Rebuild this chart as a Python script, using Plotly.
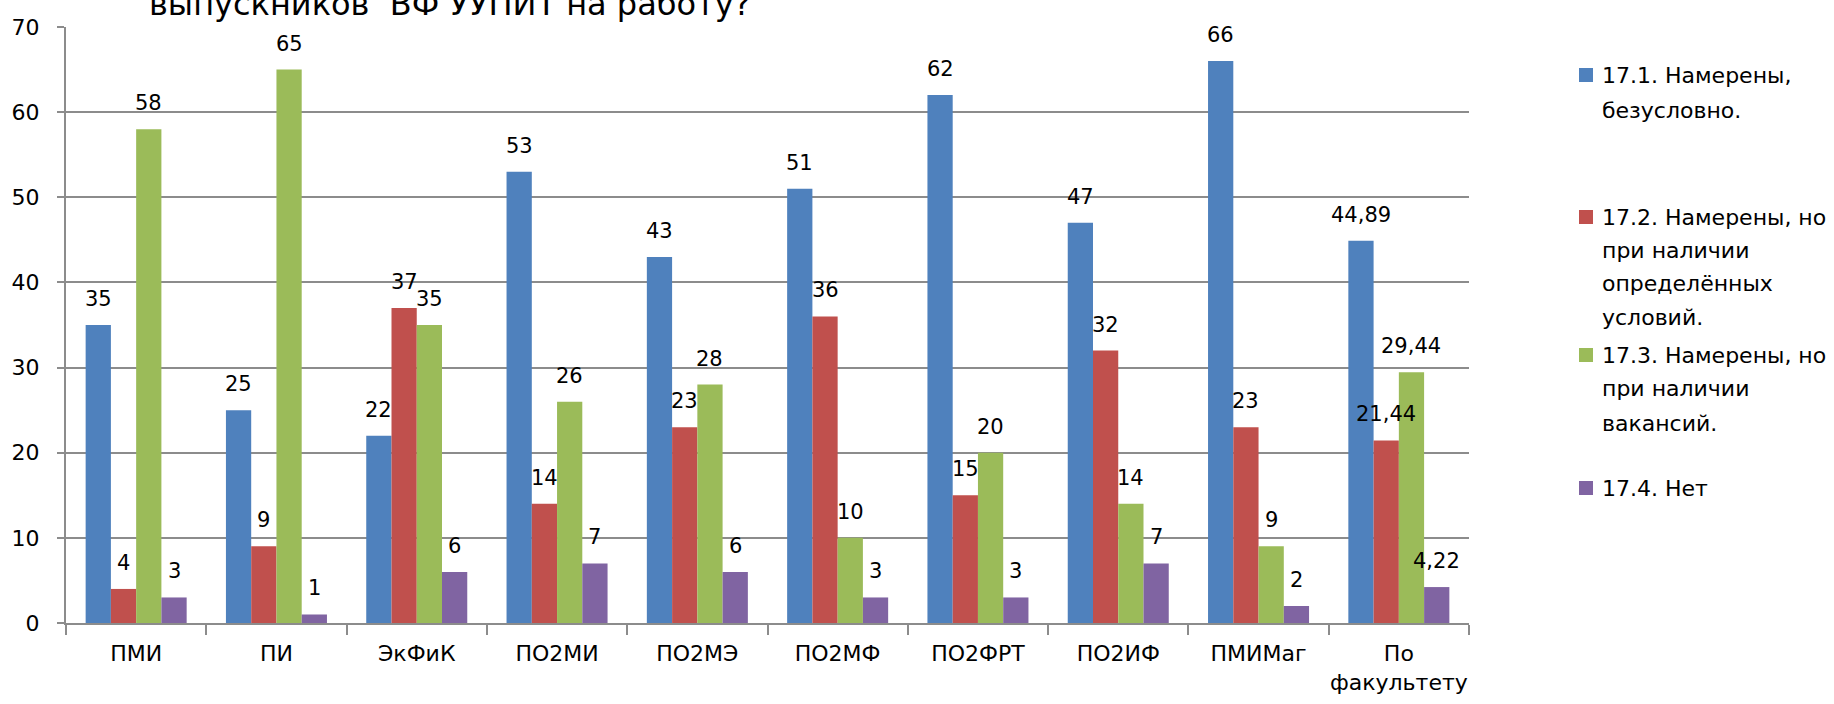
import plotly.graph_objects as go

# ---------------- data ----------------
categories = ["ПМИ", "ПИ", "ЭкФиК", "ПО2МИ", "ПО2МЭ", "ПО2МФ", "ПО2ФРТ", "ПО2ИФ", "ПМИМаг", "По<br>факультету"]
s_17_1 = [35, 25, 22, 53, 43, 51, 62, 47, 66, 44.89]
s_17_2 = [4, 9, 37, 14, 23, 36, 15, 32, 23, 21.44]
s_17_3 = [58, 65, 35, 26, 28, 10, 20, 14, 9, 29.44]
s_17_4 = [3, 1, 6, 7, 6, 3, 3, 7, 2, 4.22]
series_names = [
    "17.1. Намерены, безусловно.",
    "17.2. Намерены, но при наличии определённых условий.",
    "17.3. Намерены, но при наличии вакансий.",
    "17.4. Нет",
]
legend_lines = [
    ["17.1. Намерены,", "безусловно."],
    ["17.2. Намерены, но", "при наличии", "определённых", "условий."],
    ["17.3. Намерены, но", "при наличии", "вакансий."],
    ["17.4. Нет"],
]
title_text = "выпускников&nbsp;&nbsp;ВФ УУПИТ на работу?"
y_ticks = [0, 10, 20, 30, 40, 50, 60, 70]

# ---------------- style ----------------
colors = ["#4F81BD", "#C0504D", "#9BBB59", "#8064A2"]
FONT = "'DejaVu Sans', 'Open Sans', sans-serif"
W, H = 1834, 704
L, R, T, B = 66, 1469, 27, 623
BARGAP = 0.28
GRID = "#8C8C8C"

def px_x(x):
    return (x - L) / (R - L)

def px_y(y):
    return (B - y) / (B - T)

def fmt(v):
    return (f"{v:g}").replace(".", ",")

series = [s_17_1, s_17_2, s_17_3, s_17_4]

fig = go.Figure()
for name, vals, col in zip(series_names, series, colors):
    fig.add_trace(go.Bar(
        x=categories, y=vals, name=name,
        marker=dict(color=col, line=dict(width=0)),
        showlegend=False,
    ))

# data labels (above each bar, centred on it)
n = len(series)
bar_px = (R - L) / len(categories) * (1 - BARGAP) / n
annotations = []
for i, vals in enumerate(series):
    for c, v in zip(categories, vals):
        annotations.append(dict(
            x=c, y=v, xref="x", yref="y", text=fmt(v), showarrow=False,
            xanchor="center", yanchor="bottom",
            xshift=(i - (n - 1) / 2) * bar_px, yshift=12,
            font=dict(family=FONT, size=21, color="#000000"),
        ))

# partially visible title (cut at top of the picture, as in the original)
annotations.append(dict(
    x=px_x(450), y=px_y(25), xref="paper", yref="paper", text=title_text,
    showarrow=False, xanchor="center", yanchor="bottom",
    font=dict(family=FONT, size=32, color="#000000"),
))

# legend (manual, Excel-like spacing)
legend_y = [[75, 110], [217, 250, 283, 317], [355, 388, 423], [488]]
shapes = []
for lines, ys, col in zip(legend_lines, legend_y, colors):
    for k, (txt, yy) in enumerate(zip(lines, ys)):
        annotations.append(dict(
            x=px_x(1600), y=px_y(yy), xref="paper", yref="paper", text=txt,
            showarrow=False, xanchor="left", yanchor="middle",
            font=dict(family=FONT, size=22, color="#000000"),
        ))
    y0 = ys[0]
    shapes.append(dict(
        type="rect", xref="paper", yref="paper",
        x0=px_x(1579), x1=px_x(1593), y0=px_y(y0 + 7), y1=px_y(y0 - 7),
        fillcolor=col, line=dict(width=0),
    ))

fig.update_layout(
    width=W, height=H,
    margin=dict(l=L, r=W - R, t=T, b=H - B, pad=0, autoexpand=False),
    paper_bgcolor="white", plot_bgcolor="white",
    barmode="group", bargap=BARGAP, bargroupgap=0,
    font=dict(family=FONT, size=22, color="#000000"),
    annotations=annotations, shapes=shapes,
    showlegend=False,
)
fig.update_xaxes(
    type="category", showgrid=False, showline=True, linecolor=GRID, linewidth=2,
    ticks="outside", tickson="boundaries", ticklen=10, tickwidth=2, tickcolor=GRID,
    tickfont=dict(family=FONT, size=22, color="#000000"), ticklabelstandoff=10,
    tickangle=0, automargin=False,
)
fig.update_yaxes(
    range=[0, 70], tickvals=y_ticks, showgrid=True, gridcolor=GRID, gridwidth=2,
    zeroline=False, showline=True, linecolor=GRID, linewidth=2,
    ticks="outside", ticklen=7, tickwidth=2, tickcolor=GRID,
    tickfont=dict(family=FONT, size=22, color="#000000"), ticklabelstandoff=13,
    automargin=False,
)

fig.write_html("out.html", config={"displayModeBar": False},
               post_script="document.body.style.margin='0';")
